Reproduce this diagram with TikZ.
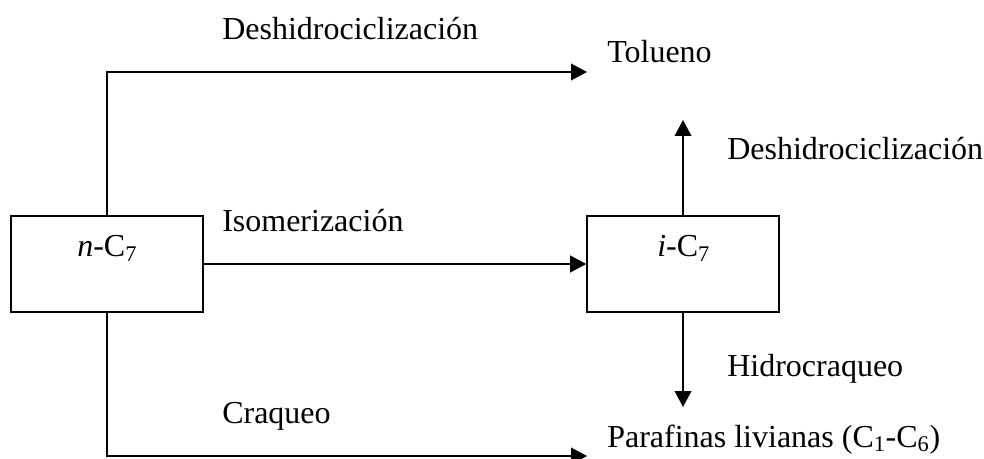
\documentclass[tikz,border=0pt]{standalone}
\usepackage{fontspec}
\setmainfont{Liberation Serif}
\usetikzlibrary{arrows.meta}
\tikzset{
  unitbox/.style={draw, line width=1.2pt, minimum width=144pt, minimum height=72pt, inner sep=0pt},
  lbl/.style={anchor=base west, inner sep=0pt, font=\fontsize{24}{28}\selectfont},
  flow/.style={line width=1.2pt, -{Triangle[length=12pt,width=12.5pt]}},
}
\begin{document}
\begin{tikzpicture}[x=0.75pt,y=-0.75pt]
  \useasboundingbox (0,0) rectangle (984,459);
  \clip (0,0) rectangle (984,459);
  % reactor boxes
  \node[unitbox] (nC) at (107,264) {};
  \node[unitbox] (iC) at (683,264) {};
  \node[lbl] (nClbl) at (77,257) {\textit{n}-C\textsubscript{7}};
  \node[lbl] (iClbl) at (657,257) {\textit{i}-C\textsubscript{7}};
  % free ends of the product arrows
  \coordinate (tol) at (587,72);
  \coordinate (par) at (587,456);
  \coordinate (up) at (683,120);
  \coordinate (down) at (683,407);
  % connectors
  \draw[flow] (nC.north) |- (tol);
  \draw[flow] (nC.east) -- (iC.west);
  \draw[flow] (nC.south) |- (par);
  \draw[flow] (iC.north) -- (up);
  \draw[flow] (iC.south) -- (down);
  % reaction labels and products
  \node[lbl] (d1) at (222,40) {Deshidrociclización};
  \node[lbl] (tolueno) at (607,63) {Tolueno};
  \node[lbl] (d2) at (727,160) {Deshidrociclización};
  \node[lbl] (iso) at (222,232) {Isomerización};
  \node[lbl] (hid) at (727,376) {Hidrocraqueo};
  \node[lbl] (craq) at (222,423) {Craqueo};
  \node[lbl] (paraf) at (607,447) {Parafinas livianas (C\textsubscript{1}-C\textsubscript{6})};
\end{tikzpicture}
\end{document}
